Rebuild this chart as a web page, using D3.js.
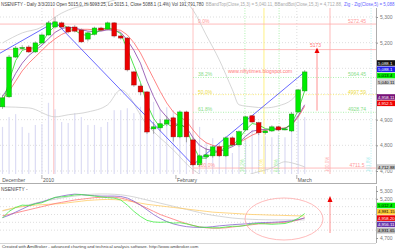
<!DOCTYPE html>
<html lang="en">
<head>
<meta charset="utf-8"/>
<script src="https://d3js.org/d3.v7.min.js"></script>
<style>
  body { margin: 0; background: #fff; }
  svg { display: block; font-family: "Liberation Sans", Arial, sans-serif; }
</style>
</head>
<body>
<svg id="chart"></svg>
<script>
const W = 400, H = 249;

// daily bars, 23 Dec 2009 .. 3 Mar 2010
const opens  = [4950,4989,5144,5179,5183,5164,5199,5230,5261,5277,5261,5261,5249,5214,5233,5257,5253,5277,5226,5218,5086,5031,5008,4864,4868,4884,4907,4833,4930,4821,4724,4755,4759,4794,4759,4829,4802,4860,4915,4888,4849,4856,4872,4864,4856,4930,5012];
const closes = [4985,5144,5179,5181,5164,5199,5230,5277,5281,5261,5242,5245,5203,5238,5257,5249,5277,5226,5218,5094,5035,5008,4852,4872,4884,4899,4833,4930,4833,4724,4759,4763,4794,4759,4829,4802,4853,4911,4891,4849,4856,4872,4860,4864,4922,5016,5086];
const highs  = [4997,5152,5187,5190,5190,5205,5236,5285,5300,5282,5265,5268,5255,5243,5262,5262,5282,5280,5232,5222,5090,5040,5012,4890,4902,4915,4912,4935,4935,4830,4765,4790,4800,4800,4835,4835,4858,4915,4918,4892,4862,4878,4876,4870,4930,5020,5093];
const lows   = [4942,4985,5140,5172,5160,5160,5195,5228,5255,5255,5236,5240,5200,5205,5228,5245,5248,5220,5212,5088,5028,4995,4845,4845,4855,4875,4815,4828,4812,4718,4718,4748,4752,4755,4755,4795,4795,4855,4888,4840,4842,4852,4855,4858,4852,4925,5010];
const volumes = [114,134,140,114,102,118,120,163,150,124,122,142,134,118,118,114,124,148,148,152,142,155,173,165,150,154,148,148,134,128,114,83,91,83,67,61,75,90,108,108,95,93,98,93,128,138,134];

// indicator lines (price units per bar)
const maFast = [4960,5050,5130,5170,5178,5180,5200,5240,5265,5272,5258,5248,5232,5228,5235,5250,5260,5250,5235,5175,5110,5045,4960,4905,4870,4885,4870,4885,4865,4800,4750,4750,4772,4775,4795,4800,4825,4860,4885,4880,4865,4860,4862,4865,4885,4935,5013];
const maMid  = [4990,5030,5080,5120,5150,5170,5190,5215,5240,5255,5260,5258,5250,5245,5243,5245,5250,5248,5240,5210,5170,5120,5050,4990,4940,4910,4885,4880,4870,4830,4800,4785,4780,4775,4785,4795,4810,4835,4855,4860,4862,4864,4865,4866,4880,4915,4958];
const maSlow = [4980,5010,5050,5090,5120,5145,5170,5195,5215,5232,5243,5250,5252,5252,5250,5250,5252,5252,5248,5230,5200,5160,5110,5060,5010,4965,4930,4910,4895,4860,4830,4810,4800,4795,4795,4800,4810,4825,4840,4850,4858,4862,4866,4868,4878,4910,4952];
const bandTopIdx = [0,3,6,8,10,13,16,18,22,26,28,29,31,33,35,36,38,40,42,44,46];
const bandTop    = [5199,5238,5261,5300,5327,5347,5358,5374,5400,5390,5358,5327,5230,5133,5016,4958,4950,4946,4954,4977,5040];
const bandBotIdx = [0,4,8,10,13,16,18,22,26,29,31,33,35,38,41,43,44,46];
const bandBot    = [4950,4946,4911,4919,4930,4958,5016,4880,4782,4705,4674,4650,4660,4690,4712,4736,4732,4716];
const zigIdx = [-1,8,29,46];
const zigVal = [5150,5281,4724,5086];

// horizontal levels
const fibVals   = [5272.45,5064.45,4997.59,4928.74,4711.5];
const fibLeft   = ["0.0%","38.2%","50.0%","61.8%","100.0%"];
const fibRight  = ["5272.45","5064.45","4997.59","4928.74","4711.5"];
const fibColors = ["#ffaaaa","#99ee99","#ffee66","#99ee99","#ffaaaa"];
const targetVal = 5173;

// vertical lines (bar index) and labels
const cycleIdx    = [7.8,29];
const timeIdx     = [36.9,39.8,42.1,49.85,56.1];
const timeColors  = ["#99ee99","#ffee66","#99ee99","#ffaaaa","#aaeeee"];
const timeLabels  = ["38.2%","50.0%","61.8%","100.0%","161.8%"];

// lower pane averages
const lowGreen  = [4955,5040,5090,5120,5115,5135,5150,5185,5220,5225,5235,5250,5255,5245,5235,5225,5215,5210,5185,5120,5040,4975,4925,4905,4900,4905,4890,4895,4880,4860,4840,4835,4830,4830,4840,4850,4850,4860,4880,4885,4880,4875,4880,4885,4910,4950,5012];
const lowPurple = [4960,4990,5030,5070,5110,5140,5160,5190,5215,5235,5250,5260,5255,5245,5240,5235,5235,5235,5230,5210,5170,5120,5060,5000,4950,4910,4880,4860,4845,4838,4835,4838,4845,4855,4862,4870,4875,4880,4888,4895,4898,4900,4905,4910,4920,4935,4956];
const lowRed    = [4985,5000,5020,5040,5060,5080,5100,5120,5140,5155,5170,5185,5195,5205,5215,5220,5222,5220,5210,5190,5160,5120,5080,5040,5000,4970,4940,4910,4885,4860,4842,4830,4825,4825,4830,4840,4850,4860,4870,4880,4885,4890,4895,4900,4910,4930,4958];
const lowYellow = [5050,5070,5090,5100,5110,5120,5125,5130,5135,5140,5150,5160,5170,5180,5185,5190,5192,5190,5185,5175,5160,5145,5130,5120,5110,5100,5090,5080,5070,5060,5050,5040,5030,5025,5020,5015,5010,5005,5000,4998,4995,4992,4990,4988,4985,4983,4981];
const lowGray   = [5045,5065,5085,5105,5125,5145,5165,5180,5195,5210,5225,5235,5245,5255,5260,5262,5262,5258,5252,5240,5225,5205,5185,5165,5145,5125,5105,5085,5065,5045,5025,5005,4990,4978,4966,4955,4948,4942,4938,4935,4933,4932,4931,4931,4931,4931,4931];

const dateLabels = ["December","2010","February","March"];
const dateIdx    = [-0.2,6,26.4,44.8];
const mainTicks  = [4700,4800,4900,5000,5100,5200,5300];
const mainTickLabels = [4700,4800,4900,5200,5300];
const titleParts = ["NSENIFTY - Daily 3/3/2010 Open 5015.0, Hi 5093.25, Lo 5015.1, Close 5088.1 (1.4%) Vol 191,791,780",
                    "BBandTop(Close,15,3) = 5,040.11, BBandBot(Close,15,3) = 4,712.88,",
                    "Zig - Zig(Close,5) = 5,088"];
const titleInks  = ["#444","#aaa","#6666ff"];

const x = d3.scaleLinear().domain([0, 46]).range([2.5, 304.7]);
const y = d3.scaleLinear().domain([4700, 5300]).range([171, 17]);
const yVol = d3.scaleLinear().domain([0, 250]).range([183, 60]);
const yLow = d3.scaleLinear().domain([4700, 5300]).range([238, 191]);
const fmt = d3.format(",");

const svg = d3.select("#chart").attr("width", W).attr("height", H);
const defs = svg.append("defs");
defs.append("clipPath").attr("id", "clipMain").append("rect").attr("x", 0).attr("y", 0).attr("width", 376).attr("height", 174);
defs.append("clipPath").attr("id", "clipLow").append("rect").attr("x", 0).attr("y", 186).attr("width", 376).attr("height", 57);

const main = svg.append("g").attr("clip-path", "url(#clipMain)");

// grid
main.selectAll(".hgrid").data(mainTicks).join("line")
    .attr("x1", 0).attr("x2", 376).attr("y1", d => y(d)).attr("y2", d => y(d))
    .attr("stroke", "#c8c8c8").attr("stroke-width", 0.6).attr("stroke-dasharray", "1,2");
main.selectAll(".vgrid").data([6, 44.8]).join("line")
    .attr("x1", d => x(d)).attr("x2", d => x(d)).attr("y1", 8).attr("y2", 174)
    .attr("stroke", "#c8c8c8").attr("stroke-width", 0.6).attr("stroke-dasharray", "1,2");

// volume
main.selectAll(".vol").data(volumes).join("rect")
    .attr("x", (d, i) => x(i) - 0.6).attr("width", 1.2)
    .attr("y", d => yVol(d)).attr("height", d => yVol(0) - yVol(d))
    .attr("fill", "#dcdcf4");

// time lines
main.selectAll(".tline").data(timeIdx).join("line")
    .attr("x1", d => x(d)).attr("x2", d => x(d)).attr("y1", 8).attr("y2", 174)
    .attr("stroke", (d, i) => timeColors[i]).attr("stroke-width", 0.8)
    .attr("stroke-dasharray", (d, i) => i === 1 || i === 3 ? null : "1,1.5");
main.selectAll(".cline").data(cycleIdx).join("line")
    .attr("x1", d => x(d)).attr("x2", d => x(d)).attr("y1", 8).attr("y2", 174)
    .attr("stroke", "#ffb4b4").attr("stroke-width", 0.8);

// fib levels
main.selectAll(".fib").data(fibVals).join("line")
    .attr("x1", (d, i) => i === 0 ? 0 : x(29)).attr("x2", 376)
    .attr("y1", d => y(d)).attr("y2", d => y(d))
    .attr("stroke", (d, i) => fibColors[i]).attr("stroke-width", 0.8)
    .attr("stroke-dasharray", (d, i) => i === 0 || i === 4 ? null : "1,1.5");
main.append("line").attr("x1", 0).attr("x2", 376).attr("y1", y(targetVal)).attr("y2", y(targetVal))
    .attr("stroke", "#ffaaaa").attr("stroke-width", 0.8);

// bands
const lineIdx = (idx, vals, sc) => d3.line().curve(d3.curveMonotoneX)
    .x((d, i) => x(idx[i])).y(d => sc(d))(vals);
main.append("path").attr("d", lineIdx(bandTopIdx, bandTop, y)).attr("fill", "none").attr("stroke", "#cccccc").attr("stroke-width", 0.8);
main.append("path").attr("d", lineIdx(bandBotIdx, bandBot, y)).attr("fill", "none").attr("stroke", "#cccccc").attr("stroke-width", 0.8);

const seq = (vals, sc) => d3.line().x((d, i) => x(i)).y(d => sc(d))(vals);
main.append("path").attr("d", seq(maSlow, y)).attr("fill", "none").attr("stroke", "#ff6666").attr("stroke-width", 0.8);
main.append("path").attr("d", seq(maMid, y)).attr("fill", "none").attr("stroke", "#8844aa").attr("stroke-width", 0.8);
main.append("path").attr("d", seq(maFast, y)).attr("fill", "none").attr("stroke", "#22dd22").attr("stroke-width", 0.8);
main.append("path").attr("d", d3.line().x((d, i) => x(zigIdx[i])).y(d => y(d))(zigVal))
    .attr("fill", "none").attr("stroke", "#4444ff").attr("stroke-width", 0.8);

// candles
const candles = main.selectAll(".c").data(closes).join("g");
candles.append("line")
    .attr("x1", (d, i) => x(i)).attr("x2", (d, i) => x(i))
    .attr("y1", (d, i) => y(highs[i])).attr("y2", (d, i) => y(lows[i]))
    .attr("stroke", "#888").attr("stroke-width", 0.7);
candles.append("rect")
    .attr("x", (d, i) => x(i) - 2.3).attr("width", 4.6)
    .attr("y", (d, i) => y(Math.max(d, opens[i])))
    .attr("height", (d, i) => Math.max(1, Math.abs(y(d) - y(opens[i]))))
    .attr("fill", (d, i) => d >= opens[i] ? "#00ee00" : "#ee0000")
    .attr("stroke", (d, i) => d >= opens[i] ? "#119911" : "#991111").attr("stroke-width", 0.5);

// arrow
main.append("line").attr("x1", 317).attr("x2", 317).attr("y1", y(4935)).attr("y2", y(5165))
    .attr("stroke", "#ff7777").attr("stroke-width", 0.8);
main.append("path").attr("d", `M314.5,${y(5160)} L317,${y(5180)} L319.5,${y(5160)} Z`).attr("fill", "#ee0000");

// texts on main pane
const tx = (g, xx, yy, s, c, size) => g.append("text").attr("x", xx).attr("y", yy).text(s)
    .attr("fill", c).attr("font-size", size || 5);
const fibInk = (i) => i === 2 ? "#eedd44" : (i === 0 || i === 4 ? "#ff9999" : "#88dd88");
main.selectAll(".fl").data(fibVals).join("text")
    .attr("x", 198).attr("y", d => y(d) - 1).text((d, i) => fibLeft[i])
    .attr("fill", (d, i) => fibInk(i)).attr("font-size", 5);
main.selectAll(".fr").data(fibVals).join("text")
    .attr("x", 357).attr("y", d => y(d) - 1).attr("text-anchor", "middle").text((d, i) => fibRight[i])
    .attr("fill", (d, i) => fibInk(i)).attr("font-size", 5);
tx(main, 310, y(targetVal) - 3, "5173", "#ff7777");
tx(main, 228, 73, "www.niftytimes.blogspot.com", "#ff7777");
main.selectAll(".tl").data(timeIdx).join("text")
    .attr("transform", d => `translate(${x(d) - 1},172) rotate(-90)`)
    .text((d, i) => timeLabels[i]).attr("fill", (d, i) => timeColors[i]).attr("font-size", 4.5);

// date axis
svg.append("line").attr("x1", 0).attr("x2", 376).attr("y1", 183.5).attr("y2", 183.5).attr("stroke", "#999").attr("stroke-width", 0.8);
svg.selectAll(".dt").data(dateIdx.slice(1)).join("line")
    .attr("x1", d => x(d)).attr("x2", d => x(d)).attr("y1", 175).attr("y2", 179)
    .attr("stroke", "#777").attr("stroke-width", 0.6);
svg.selectAll(".dl2").data(dateLabels).join("text")
    .attr("x", (d, i) => x(dateIdx[i]) + 1).attr("y", 181.5).text(d => d)
    .attr("fill", "#555").attr("font-size", 5);

// title: three runs side by side, font shrunk until they fit the width
const parts = svg.append("g").selectAll("text").data(titleParts).join("text")
    .attr("y", 5.5).attr("font-size", 5).attr("fill", (d, i) => titleInks[i]).text(d => d);
const gap = 2;
const w5 = d3.sum(parts.nodes(), n => n.getComputedTextLength()) + gap * 2;
const fs = Math.min(5, 5 * 394 / w5);
parts.attr("font-size", fs);
let cx = 1;
parts.each(function() {
  d3.select(this).attr("x", cx);
  cx += this.getComputedTextLength() + gap;
});

// right axis main
const axMain = svg.append("g").attr("transform", "translate(376,0)")
    .call(d3.axisRight(y).tickValues(mainTicks).tickSize(2)
      .tickFormat(d => mainTickLabels.includes(d) ? fmt(d) : ""));
axMain.select(".domain").remove();
axMain.selectAll("text").attr("font-size", 5).attr("fill", "#777").attr("x", 4);
axMain.selectAll("line").attr("stroke", "#999");
svg.append("line").attr("x1", 376.5).attr("x2", 376.5).attr("y1", 8).attr("y2", 184).attr("stroke", "#999").attr("stroke-width", 0.8);

// value boxes main
const boxText   = ["5,088.1","5,088.1","5,013.4","5,040.11","4,958.11","4,952.5","4,712.88"];
const boxY      = [63,69.3,75.6,82,97,103.3,167];
const boxFill   = ["#111","#2222ee","#00ee00","#cccccc","#771177","#ee0000","#cccccc"];
const boxInk    = ["#fff","#fff","#000","#000","#fff","#fff","#000"];
const bx = svg.selectAll(".bx").data(boxText).join("g").attr("transform", (d, i) => `translate(377,${boxY[i] - 2.8})`);
bx.append("rect").attr("width", 18).attr("height", 5.6).attr("fill", (d, i) => boxFill[i]);
bx.append("text").attr("x", 1).attr("y", 4.4).attr("font-size", 4.3).attr("fill", (d, i) => boxInk[i]).text(d => d);

// lower pane
const low = svg.append("g").attr("clip-path", "url(#clipLow)");
low.selectAll(".lg").data([5200,5100,5000,4900,4800]).join("line")
    .attr("x1", 0).attr("x2", 376).attr("y1", d => yLow(d)).attr("y2", d => yLow(d))
    .attr("stroke", "#c8c8c8").attr("stroke-width", 0.6).attr("stroke-dasharray", "1,2");
const lowSeries = [[lowGray,"#cccccc"],[lowYellow,"#ffcc66"],[lowRed,"#ff7777"],[lowPurple,"#8866cc"],[lowGreen,"#44ee44"]];
lowSeries.forEach(s => {
  low.append("path").attr("d", seq(s[0], yLow)).attr("fill", "none").attr("stroke", s[1]).attr("stroke-width", 0.8);
});
low.append("ellipse").attr("cx", 284).attr("cy", 219).attr("rx", 39).attr("ry", 21)
    .attr("fill", "none").attr("stroke", "#ffaaaa").attr("stroke-width", 0.8);
low.append("line").attr("x1", 330).attr("x2", 330).attr("y1", 233).attr("y2", 200).attr("stroke", "#ff7777").attr("stroke-width", 0.8);
low.append("path").attr("d", "M327.5,202 L330,196 L332.5,202 Z").attr("fill", "#ee0000");
tx(svg, 1, 191, "NSENIFTY -", "#444", 4.8);

svg.append("line").attr("x1", 376.5).attr("x2", 376.5).attr("y1", 186).attr("y2", 243).attr("stroke", "#999").attr("stroke-width", 0.8);
svg.append("line").attr("x1", 0).attr("x2", 376).attr("y1", 243.5).attr("y2", 243.5).attr("stroke", "#bbb").attr("stroke-width", 0.6);
const axLow = svg.append("g").attr("transform", "translate(376,0)")
    .call(d3.axisRight(yLow).tickValues([4700,5200,5300]).tickSize(2).tickFormat(fmt));
axLow.select(".domain").remove();
axLow.selectAll("text").attr("font-size", 5).attr("fill", "#777").attr("x", 4);
axLow.selectAll("line").attr("stroke", "#999");

const lowBoxText = ["5,012.4","4,981.15","4,958.20","4,956.11","4,931.65"];
const lowBoxY    = [205.5,211.8,218.1,224.4,230.7];
const lowBoxFill = ["#00ee00","#ffcc33","#ee0000","#6633aa","#bbbbbb"];
const lowBoxInk  = ["#000","#000","#fff","#fff","#000"];
const lbx = svg.selectAll(".lbx").data(lowBoxText).join("g").attr("transform", (d, i) => `translate(377,${lowBoxY[i] - 2.8})`);
lbx.append("rect").attr("width", 18).attr("height", 5.6).attr("fill", (d, i) => lowBoxFill[i]);
lbx.append("text").attr("x", 1).attr("y", 4.4).attr("font-size", 4.3).attr("fill", (d, i) => lowBoxInk[i]).text(d => d);

tx(svg, 2, 248, "Created with AmiBroker - advanced charting and technical analysis software. http://www.amibroker.com", "#444", 4.3);
</script>
</body>
</html>
